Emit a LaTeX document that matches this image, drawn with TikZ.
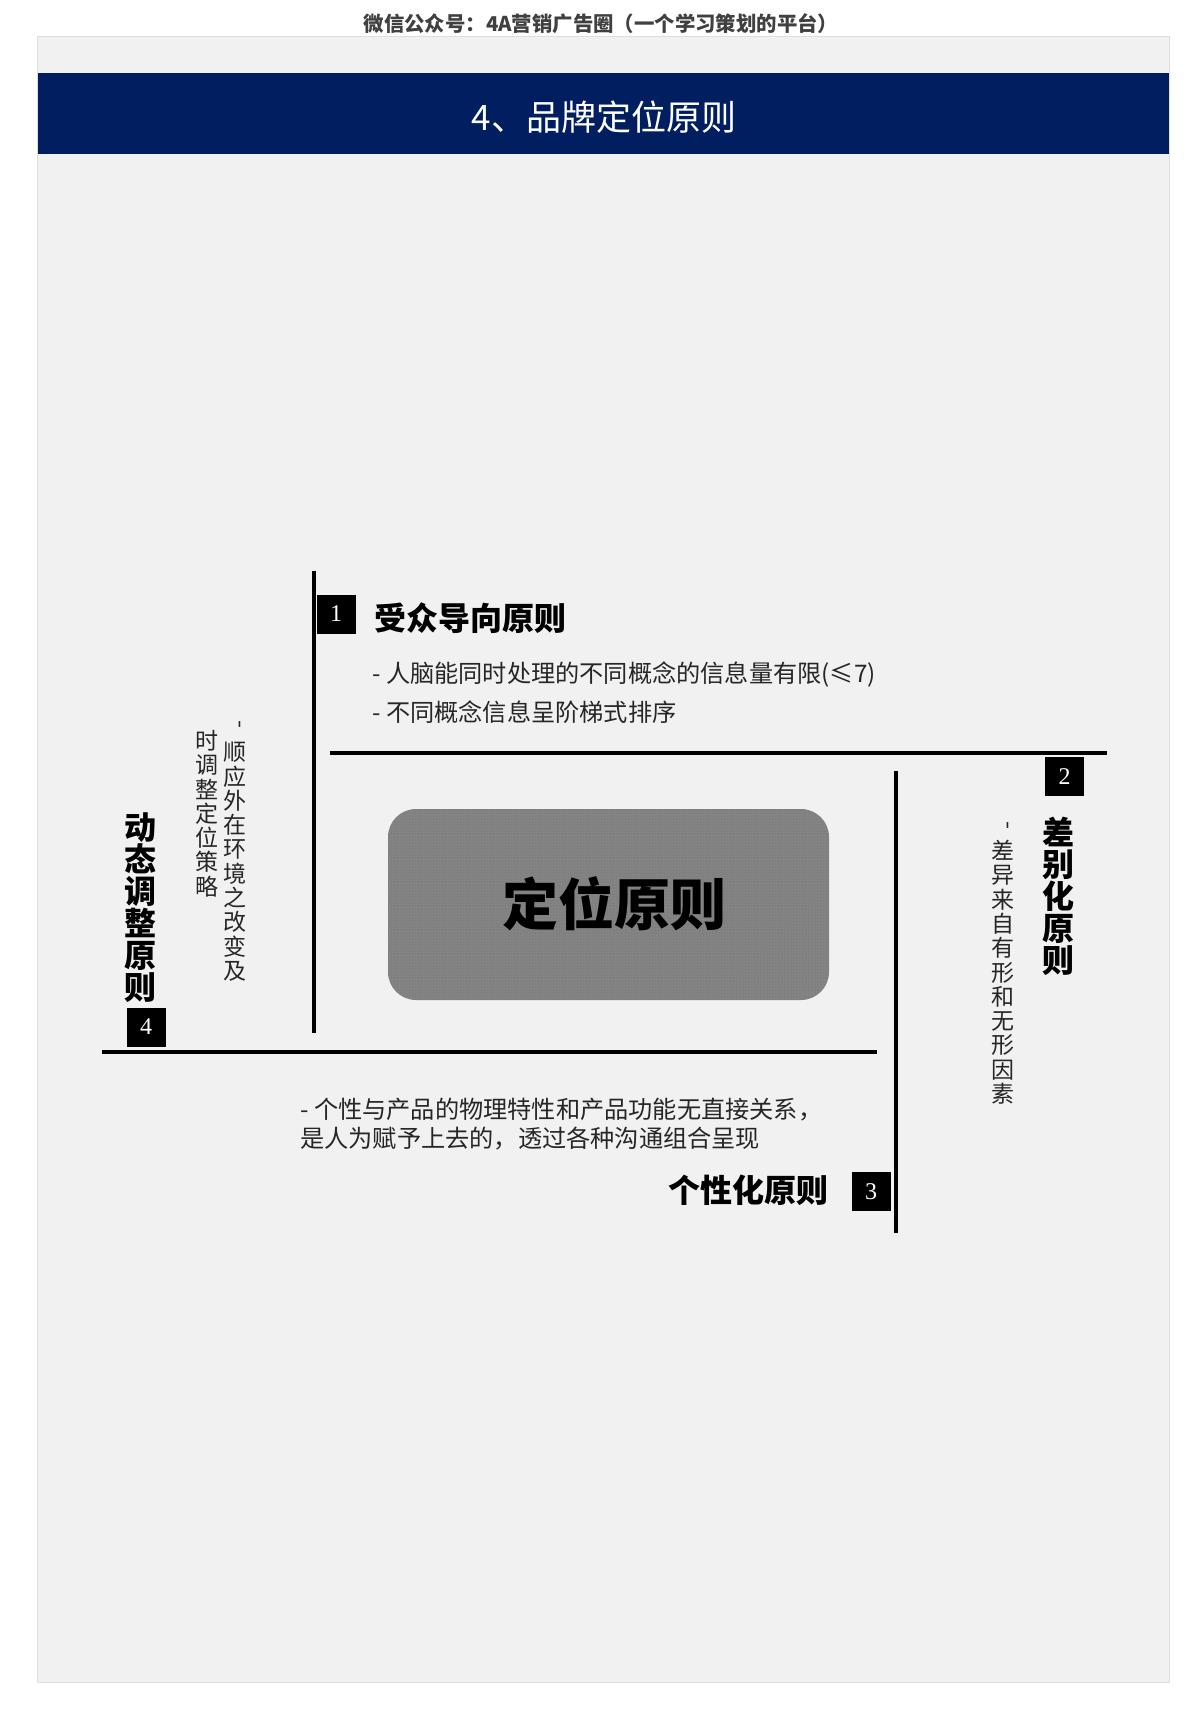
\documentclass[tikz,border=0pt]{standalone}
\usepackage{fontspec}
\setmainfont{Liberation Serif}
\newfontfamily\cjk{Noto Sans CJK SC}
\usetikzlibrary{patterns}
\definecolor{bannerblue}{RGB}{0,30,96}
\definecolor{panelgray}{RGB}{241,241,241}
\definecolor{panelline}{RGB}{222,222,222}
\definecolor{boxgray}{RGB}{128,128,128}
\definecolor{dotgray}{RGB}{160,160,160}
\definecolor{ink}{RGB}{38,38,38}
\tikzset{
	rule/.style={line width=3.5pt,black},
	numbox/.style={fill=black,text=white,inner sep=0pt,minimum width=39pt,minimum height=39pt,font=\fontsize{24}{24}\selectfont},
	head/.style={inner sep=0pt,text=black,font=\cjk\bfseries\fontsize{32}{32}\selectfont},
	vhead/.style={head,align=center},
	body/.style={inner sep=0pt,text=ink,align=left,font=\cjk\fontsize{24.2}{29}\selectfont},
	vbody/.style={inner sep=0pt,text=ink,align=center,font=\cjk\fontsize{23}{24.3}\selectfont},
	hyphen/.style={inner sep=0pt,text=ink,rotate=-90,font=\cjk\fontsize{23}{24}\selectfont}
}
\newcommand{\NumBox}[4]{
	\node[numbox] (#1) at (#2,#3) {#4};
}

\begin{document}
\begin{tikzpicture}[x=1pt,y=-1pt]
	\useasboundingbox (0,0) rectangle (1200,1715);
	%page
	\fill[white] (0,0) rectangle (1200,1715);
	\draw[panelline,fill=panelgray] (37.5,36) rectangle (1169.5,1682);
	\node[inner sep=0pt,text=black!75,font=\cjk\bfseries\fontsize{20.4}{20}\selectfont] (source) at (601,24) {微信公众号：4A营销广告圈（一个学习策划的平台）};
	%banner
	\fill[bannerblue] (38,73) rectangle (1169,154);
	\node[inner sep=0pt,text=white,font=\cjk\fontsize{35}{35}\selectfont] (title) at (604,117) {4、品牌定位原则};
	%centre
	\fill[boxgray,rounded corners=28pt] (388,809) rectangle (829,1000);
	\fill[pattern=dots,pattern color=dotgray,rounded corners=28pt] (388,809) rectangle (829,1000);
	\node[inner sep=0pt,text=black,font=\cjk\bfseries\fontsize{56}{56}\selectfont] (core) at (614,904) {定位原则};
	%rules
	\draw[rule] (314,571) -- (314,1033);
	\draw[rule] (330,753) -- (1107,753);
	\draw[rule] (896,771) -- (896,1233);
	\draw[rule] (102,1052) -- (877,1052);
	%1
	\NumBox{one}{336}{614}{1}
	\node[head,anchor=west] (audience) at (374,618) {受众导向原则};
	\node[body,font=\cjk\fontsize{24.2}{39}\selectfont,anchor=west] (audience-text) at (372,692.5) {- 人脑能同时处理的不同概念的信息量有限(≤7)\\- 不同概念信息呈阶梯式排序};
	%2
	\NumBox{two}{1064.5}{776.5}{2}
	\node[vhead,anchor=north] (difference) at (1058,817) {差\\别\\化\\原\\则};
	\node[hyphen] (difference-dash) at (1005,825) {-};
	\node[vbody,anchor=north] (difference-text) at (1003,840) {差\\异\\来\\自\\有\\形\\和\\无\\形\\因\\素};
	%3
	\NumBox{three}{871}{1191.5}{3}
	\node[head,anchor=east] (personal) at (829,1190) {个性化原则};
	\node[body,anchor=west] (personal-text) at (300,1124.5) {- 个性与产品的物理特性和产品功能无直接关系，\\是人为赋予上去的，透过各种沟通组合呈现};
	%4
	\NumBox{four}{146}{1027}{4}
	\node[vhead,anchor=north] (dynamic) at (140,813) {动\\态\\调\\整\\原\\则};
	\node[hyphen] (dynamic-dash) at (237,724) {-};
	\node[vbody,anchor=north] (dynamic-text-a) at (235,742) {顺\\应\\外\\在\\环\\境\\之\\改\\变\\及};
	\node[vbody,anchor=north] (dynamic-text-b) at (207,730) {时\\调\\整\\定\\位\\策\\略};
\end{tikzpicture}
\end{document}
